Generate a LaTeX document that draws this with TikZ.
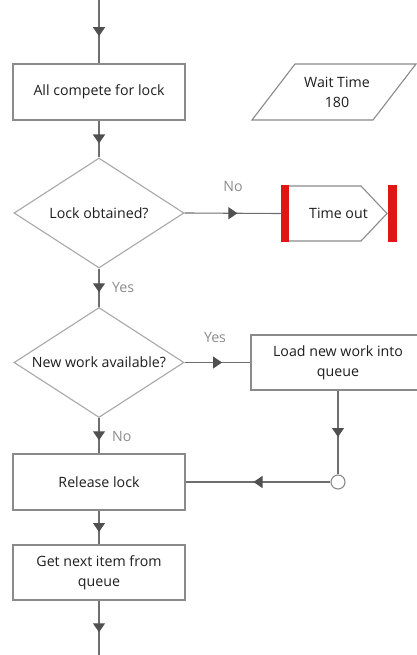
\documentclass[tikz,border=0pt]{standalone}
\usepackage{fontspec}
\setmainfont{Open Sans}
\usetikzlibrary{arrows.meta,decorations.markings,shapes.geometric}

\definecolor{flowline}{HTML}{6E6E6E}
\definecolor{boxline}{HTML}{8A8A8A}
\definecolor{diamline}{HTML}{A8A8A8}
\definecolor{tipfill}{HTML}{505050}
\definecolor{labelgray}{HTML}{8C8C8C}
\definecolor{bodytext}{HTML}{1E1E1E}
\definecolor{stopred}{HTML}{E01515}

\begin{document}
\begin{tikzpicture}[x=1pt,y=-1pt,
  every node/.style={font=\fontsize{14.2}{20}\selectfont, text=bodytext},
  proc/.style={draw=boxline, line width=1.1pt, fill=white, rectangle,
    minimum width=172pt, minimum height=56pt, inner sep=0pt, align=center},
  decision/.style={diamond, draw=diamline, line width=1.1pt, fill=white,
    minimum width=170pt, minimum height=110pt, inner sep=0pt},
  branch/.style={text=labelgray, inner sep=0pt},
  flow/.style={draw=flowline, line width=1.1pt, postaction={decorate},
    decoration={markings, mark=at position 0.5 with
      {\arrow[xshift=4.5pt, fill=tipfill, draw=tipfill]{Triangle[length=9pt,width=12pt]}}}}
]
\useasboundingbox (0,0) rectangle (417,655);

% free ends of the entry and exit connectors
\coordinate (entry) at (99,0);
\coordinate (exit) at (99,655);

% main column
\node[proc] (compete) at (99,92) {All compete for lock};
\node[decision, label={center:Lock obtained?}] (locked) at (99,213) {};
\node[decision, label={center:New work available?}] (newwork) at (99,362.5) {};
\node[proc] (release) at (99,482) {Release lock};
\node[proc, minimum height=55pt] (nextitem) at (99,572.5) {Get next item from\\queue};

% right column
\node[proc, minimum width=174pt, minimum height=55pt] (load) at (338,362.5) {Load new work into\\queue};
\node[circle, draw=boxline, line width=1.1pt, fill=white, minimum size=14pt, inner sep=0pt] (join) at (338,482) {};

% wait time parameter (parallelogram)
\draw[draw=boxline, line width=1.1pt, fill=white]
  (252,120) -- (295,64) -- (416,64) -- (373,120) -- cycle;
\node[align=center] (wait) at (337,92) {Wait Time\\180};

% time-out terminator with red end bars
\draw[draw=boxline, line width=1.1pt, fill=white]
  (284,186) -- (361,186) -- (387,213.5) -- (361,241) -- (284,241) -- cycle;
\fill[stopred] (280.5,185) rectangle (288.5,242);
\fill[stopred] (388,185) rectangle (396.5,242);
\node[minimum width=114pt, minimum height=57pt, inner sep=0pt] (timeout) at (338.5,213.5) {Time out};

% connectors
\path[flow] (entry) -- (compete.north);
\path[flow] (compete.south) -- (locked.north);
\path[flow] (locked.east) -- (timeout.west);
\path[flow] (locked.south) -- (newwork.north);
\path[flow] (newwork.east) -- (load.west);
\path[flow] (load.south) -- (join.north);
\path[flow] (join.west) -- (release.east);
\path[flow] (newwork.south) -- (release.north);
\path[flow] (release.south) -- (nextitem.north);
\path[flow] (nextitem.south) -- (exit);

% branch labels
\node[branch] (noA) at (233,187) {No};
\node[branch, anchor=west] (yesA) at (112,287) {Yes};
\node[branch] (yesB) at (215,337) {Yes};
\node[branch, anchor=west] (noB) at (112,436) {No};
\end{tikzpicture}
\end{document}
